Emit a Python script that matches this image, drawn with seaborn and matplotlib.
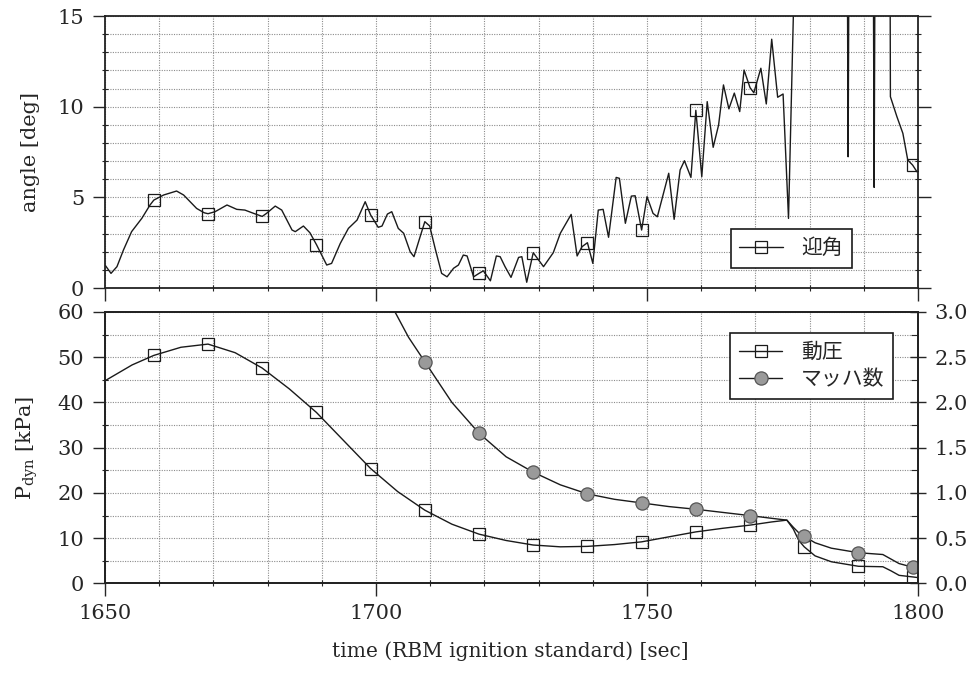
import numpy as np
import matplotlib
matplotlib.use("Agg")
import matplotlib.pyplot as plt
from matplotlib.ticker import MultipleLocator
import seaborn as sns

# angle of attack (top panel), values above 15 run off the chart
t_angle = [1650.0, 1651.1, 1652.2, 1653.4, 1654.9, 1656.8, 1658.3, 1659, 1660.8, 1663.2,
           1664.5, 1666.9, 1668.3, 1669, 1670.3, 1672.5, 1674.3, 1675.8, 1677.4, 1679,
           1679.8, 1681.4, 1682.6, 1684.5, 1685.1, 1686.6, 1687.8, 1689, 1690.9, 1691.8,
           1693.4, 1694.9, 1696.5, 1698.0, 1699, 1700.4, 1701.1, 1702.1, 1702.9, 1704.1,
           1705.1, 1706.3, 1707.0, 1708.1, 1709, 1709.9, 1710.9, 1712.1, 1713.1, 1714.3,
           1715.2, 1716.1, 1716.8, 1718.0, 1719, 1719.8, 1721.1, 1722.2, 1722.9, 1723.8,
           1724.9, 1726.3, 1726.9, 1727.8, 1729, 1730.9, 1732.7, 1734.0, 1736.0, 1737.1,
           1738.0, 1739, 1740.0, 1741.0, 1741.9, 1742.9, 1744.3, 1744.9, 1746.0, 1747.1,
           1747.8, 1749, 1750.0, 1751.1, 1751.9, 1754.0, 1755.0, 1756.1, 1756.9, 1758.1,
           1759, 1760.1, 1761.1, 1762.2, 1763.2, 1764.1, 1765.1, 1766.1, 1767.1, 1767.9,
           1769, 1769.7, 1771.0, 1772.0, 1773.0, 1774.1, 1775.1, 1776.1, 1777.0, 1778.0,
           1779, 1786.9, 1787.1, 1787.3, 1789, 1791.7, 1791.9, 1792.1, 1794.8, 1794.9,
           1796.1, 1797.2, 1798.1, 1799, 1799.8]
angle = [1.27, 0.81, 1.18, 2.10, 3.11, 3.85, 4.58, 4.85, 5.13, 5.35,
         5.13, 4.39, 4.15, 4.10, 4.21, 4.58, 4.34, 4.30, 4.12, 3.95,
         4.12, 4.52, 4.30, 3.20, 3.11, 3.42, 3.05, 2.40, 1.27, 1.36,
         2.46, 3.29, 3.75, 4.76, 4.03, 3.35, 3.42, 4.08, 4.21, 3.29,
         3.02, 2.00, 1.73, 2.80, 3.66, 3.42, 2.19, 0.81, 0.62, 1.09,
         1.27, 1.82, 1.77, 0.62, 0.81, 0.95, 0.40, 1.77, 1.73, 1.18,
         0.59, 1.69, 1.73, 0.32, 1.95, 1.18, 1.95, 3.02, 4.06, 1.77,
         2.28, 2.50, 1.36, 4.30, 4.34, 2.80, 6.10, 6.05, 3.57, 5.07,
         5.09, 3.20, 5.04, 4.12, 3.93, 6.33, 3.79, 6.51, 7.02, 6.10,
         9.80, 6.14, 10.28, 7.76, 8.99, 11.20, 9.88, 10.75, 9.73, 12.02,
         11.05, 10.77, 12.12, 10.15, 13.72, 10.52, 10.70, 3.84, 15.1, 19.0,
         22.0, 22.0, 7.24, 22.0, 22.0, 22.0, 5.55, 22.0, 22.0, 10.55,
         9.45, 8.53, 7.06, 6.78, 6.41]

# dynamic pressure [kPa]
t_pdyn = [1650, 1655, 1659, 1664, 1669, 1674, 1679, 1684, 1689, 1694, 1699, 1704, 1709,
          1714, 1719, 1724, 1729, 1734, 1739, 1744, 1749, 1754, 1759, 1764, 1769, 1773,
          1775.8, 1777, 1778, 1779, 1781, 1784, 1789, 1793.5, 1795, 1796.5, 1799, 1800]
pdyn = [44.8, 48.3, 50.4, 52.2, 52.9, 51.0, 47.6, 43.0, 37.8, 31.6, 25.4, 20.3, 16.2,
        13.1, 10.9, 9.5, 8.5, 8.1, 8.2, 8.6, 9.2, 10.3, 11.4, 12.2, 12.9, 13.6,
        14.0, 12.0, 9.5, 8.1, 6.1, 4.8, 3.8, 3.7, 2.8, 1.8, 1.45, 1.3]

# Mach number (right axis)
t_mach = [1699, 1703.5, 1706, 1709, 1714, 1719, 1724, 1729, 1734, 1739, 1744, 1749,
          1754, 1759, 1764, 1769, 1773, 1775.8, 1777, 1778, 1779, 1781, 1784, 1789,
          1793.5, 1795, 1796.5, 1799, 1800]
mach = [3.35, 3.0, 2.72, 2.45, 2.0, 1.66, 1.40, 1.23, 1.09, 0.99, 0.93, 0.89,
        0.85, 0.82, 0.785, 0.75, 0.72, 0.70, 0.62, 0.56, 0.52, 0.45, 0.39, 0.34,
        0.32, 0.27, 0.22, 0.18, 0.17]

marker_times = [1659, 1669, 1679, 1689, 1699, 1709, 1719, 1729, 1739, 1749,
                1759, 1769, 1779, 1789, 1799]

sns.set_style("ticks")
plt.rcParams['font.family'] = ['DejaVu Serif', 'Noto Sans CJK JP']
plt.rcParams['mathtext.fontset'] = 'dejavuserif'
plt.rcParams['font.size'] = 15

fig = plt.figure(figsize=(9.78, 6.81), dpi=100)
ax1 = fig.add_axes([0.1074, 0.577, 0.8313, 0.3995])
ax2 = fig.add_axes([0.1074, 0.1432, 0.8313, 0.3987])
ax3 = ax2.twinx()

line_kw = dict(color='#1a1a1a', lw=1.0, estimator=None, sort=False, legend=False)


def mk(times):
    return [i for i, t in enumerate(times) if t in marker_times]


sns.lineplot(x=t_angle, y=angle, ax=ax1, marker='s', markevery=mk(t_angle), ms=9,
             markerfacecolor='none', markeredgecolor='#1a1a1a', markeredgewidth=0.9,
             label='迎角', **line_kw)
sns.lineplot(x=t_pdyn, y=pdyn, ax=ax2, marker='s', markevery=mk(t_pdyn), ms=9,
             markerfacecolor='none', markeredgecolor='#1a1a1a', markeredgewidth=0.9,
             label='動圧', **line_kw)
sns.lineplot(x=t_mach, y=mach, ax=ax3, marker='o', markevery=mk(t_mach), ms=9.5,
             markerfacecolor='#9a9a9a', markeredgecolor='#555555', markeredgewidth=0.9,
             label='マッハ数', **line_kw)

grid_kw = dict(color='#8c8c8c', ls=(0, (1, 1.2)), lw=0.8)

ax1.set_xlim(1650, 1800)
ax1.set_ylim(0, 15)
ax1.yaxis.set_major_locator(MultipleLocator(5))
ax1.yaxis.set_minor_locator(MultipleLocator(1))
ax2.set_xlim(1650, 1800)
ax2.set_ylim(0, 60)
ax2.yaxis.set_major_locator(MultipleLocator(10))
ax2.yaxis.set_minor_locator(MultipleLocator(5))
ax3.set_ylim(0, 3.0)
ax3.yaxis.set_major_locator(MultipleLocator(0.5))
ax3.yaxis.set_minor_locator(MultipleLocator(0.25))
ax3.yaxis.set_major_formatter(plt.FormatStrFormatter('%.1f'))

for ax in (ax1, ax2, ax3):
    for s in ax.spines.values():
        s.set_linewidth(1.3)
        s.set_color('#222222')

for ax in (ax1, ax2):
    ax.xaxis.set_major_locator(MultipleLocator(50))
    ax.xaxis.set_minor_locator(MultipleLocator(10))
    ax.grid(True, which='both', **grid_kw)
    ax.tick_params(which='major', direction='out', length=9, width=1.0, pad=6)
    ax.tick_params(which='minor', direction='inout', length=5, width=0.8)
    ax.set_xlabel('')

ax1.tick_params(labelbottom=False)
ax1.tick_params(axis='y', right=True, which='both')
ax3.tick_params(which='major', direction='inout', length=12, width=1.0, pad=6)
ax3.tick_params(which='minor', direction='in', length=5, width=0.8)
ax3.set_ylabel('')

ax1.set_ylabel('angle [deg]', fontsize=15)
ax2.set_ylabel(r'P$_{\rm dyn}$ [kPa]', fontsize=15)
ax1.yaxis.set_label_coords(-0.08, 0.5)
ax2.yaxis.set_label_coords(-0.08, 0.5)
fig.text(0.522, 0.035, 'time (RBM ignition standard) [sec]', ha='center', fontsize=14.5)

leg_kw = dict(frameon=True, fancybox=False, edgecolor='#1a1a1a', framealpha=1,
              prop={'family': 'Noto Sans CJK JP', 'size': 15}, handlelength=2.1,
              borderpad=0.4, labelspacing=0.25, handletextpad=0.9)
leg1 = ax1.legend(handles=ax1.get_lines()[:1], loc='lower right',
                  bbox_to_anchor=(0.931, 0.037), **leg_kw)
leg1.get_frame().set_linewidth(1.2)
leg2 = ax3.legend(handles=ax2.get_lines()[:1] + ax3.get_lines()[:1], loc='upper right',
                  bbox_to_anchor=(0.982, 0.962), **leg_kw)
leg2.get_frame().set_linewidth(1.2)

fig.savefig('out.png', dpi=100)
